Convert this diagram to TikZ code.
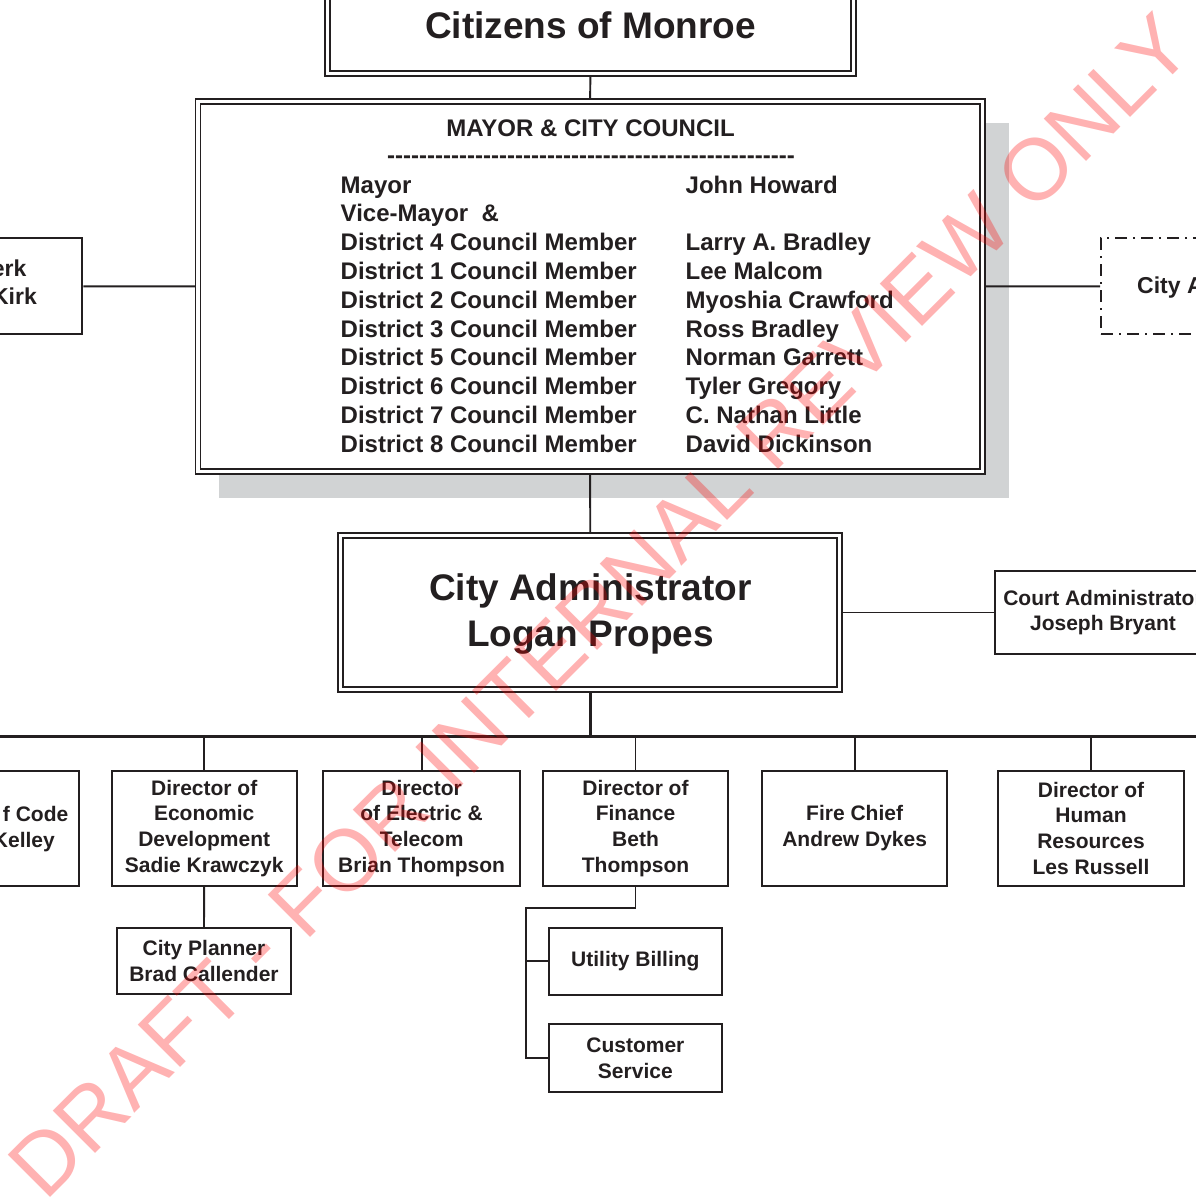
\documentclass[tikz,border=0pt]{standalone}
\usepackage{fontspec}
\setmainfont{Liberation Sans}
\newfontfamily\wmfont{Liberation Sans}
\usetikzlibrary{calc}
\definecolor{ink}{HTML}{231F20}
\definecolor{shadowgray}{HTML}{D1D3D4}
\pgfdeclarelayer{paperlayer}
\pgfdeclarelayer{shadelayer}
\pgfdeclarelayer{linklayer}
\pgfdeclarelayer{marklayer}
\pgfsetlayers{paperlayer,shadelayer,linklayer,main,marklayer}
\newcommand\hyphenrun{\foreach \k in {1,...,51}{-\kern0pt}}
\begin{document}
\begin{tikzpicture}[x=1pt,y=-1pt,
  plainbox/.style={draw=ink, line width=1.9pt, rectangle, inner sep=0pt, align=center,
    text=ink, font=\fontsize{21}{25.6}\selectfont\bfseries},
  dblbox/.style={draw=ink, line width=1.8pt, double=white, double distance=3.2pt,
    rectangle, inner sep=0pt},
  dashbox/.style={plainbox, dash pattern=on 12pt off 6pt on 2pt off 6pt},
  link/.style={draw=ink, line width=1.9pt},
  trunk/.style={draw=ink, line width=2.7pt},
  cell/.style={anchor=base west, inner sep=0pt, text=ink, font=\fontsize{24}{28.8}\selectfont\bfseries},
  bigtext/.style={anchor=base, inner sep=0pt, text=ink, font=\fontsize{37}{44}\selectfont\bfseries},
  sidetext/.style={inner sep=0pt, text=ink, font=\fontsize{23}{27.6}\selectfont\bfseries},
]
\begin{pgfonlayer}{paperlayer}
  \fill[white] (0,0) rectangle (1195,1199);
\end{pgfonlayer}
\useasboundingbox (0,0) rectangle (1195,1199);

% ---- top level ----
\node[dblbox, minimum width=525.5pt, minimum height=113.2pt] (cit) at (590.45,16.6) {};
\node[bigtext] (citT) at (590.5,39) {Citizens of Monroe};

% ---- council ----
\begin{pgfonlayer}{shadelayer}
  \fill[shadowgray] (219.3,122.7) rectangle (1009.3,497.7);
\end{pgfonlayer}
\node[dblbox, fill=white, minimum width=784.3pt, minimum height=369.7pt] (council) at (590.05,286.35) {};
\node[cell, anchor=base] (ctitle) at (590.5,136.6) {MAYOR \& CITY COUNCIL};
\node[cell, anchor=base] (crule) at (591,163) {\hyphenrun};
\foreach \txt [count=\i] in {Mayor, Vice-Mayor\ \ \&, District 4 Council Member,
  District 1 Council Member, District 2 Council Member, District 3 Council Member,
  District 5 Council Member, District 6 Council Member, District 7 Council Member,
  District 8 Council Member}
  \node[cell] (role\i) at (340.5,{193+28.8*(\i-1)}) {\txt};
\foreach \i/\txt in {1/John Howard, 3/Larry A. Bradley, 4/Lee Malcom, 5/Myoshia Crawford,
  6/Ross Bradley, 7/Norman Garrett, 8/Tyler Gregory, 9/C. Nathan Little, 10/David Dickinson}
  \node[cell] (name\i) at (685.5,{193+28.8*(\i-1)}) {\txt};

% ---- side boxes of the council ----
\node[plainbox, minimum width=142.3pt, minimum height=96pt] (clerk) at (11.15,286.3) {};
\node[sidetext, anchor=base east] (clerkA) at (26.5,276.7) {erk};
\node[sidetext, anchor=base east] (clerkB) at (37,304) {Kirk};
\node[dashbox, minimum width=199pt, minimum height=96pt] (attorney) at (1200.5,286.3) {};
\node[sidetext, anchor=base west] (attorneyT) at (1137,293) {City A};

% ---- administrator ----
\node[dblbox, minimum width=499pt, minimum height=153.4pt] (admin) at (590.3,612.5) {};
\node[bigtext] (adminA) at (590.5,600) {City Administrator};
\node[bigtext] (adminB) at (590.5,646) {Logan Propes};
\node[plainbox, minimum width=216pt, minimum height=83.6pt] (court) at (1103,612.5)
  {Court Administrator\\Joseph Bryant};

% ---- departments ----
\node[plainbox, minimum width=188.7pt, minimum height=115pt] (code) at (-15.65,828.2) {};
\node[inner sep=0pt, text=ink, font=\fontsize{21}{25.6}\selectfont\bfseries, anchor=base east] (codeA) at (68.5,821.7) {f Code};
\node[inner sep=0pt, text=ink, font=\fontsize{21}{25.6}\selectfont\bfseries, anchor=base east] (codeB) at (55,847.7) {Kelley};
\node[plainbox, minimum width=185pt, minimum height=115pt] (dev) at (204.2,828.2)
  {Director of\\Economic\\Development\\Sadie Krawczyk};
\node[plainbox, minimum width=196.7pt, minimum height=115pt] (elec) at (421.65,828.2)
  {Director\\of Electric \&\\Telecom\\Brian Thompson};
\node[plainbox, minimum width=185.6pt, minimum height=115pt] (fin) at (635.5,828.2)
  {Director of\\Finance\\Beth\\Thompson};
\node[plainbox, minimum width=184.7pt, minimum height=115pt] (fire) at (854.65,828.2)
  {Fire Chief\\Andrew Dykes};
\node[plainbox, minimum width=185.4pt, minimum height=115pt] (hr) at (1091,828.2)
  {Director of\\Human\\Resources\\Les Russell};
\node[plainbox, minimum width=173.4pt, minimum height=66.6pt] (planner) at (204,961)
  {City Planner\\Brad Callender};
\node[plainbox, minimum width=172.7pt, minimum height=67pt] (utility) at (635.35,961.2)
  {Utility Billing};
\node[plainbox, minimum width=172.7pt, minimum height=67.4pt] (customer) at (635.35,1058)
  {Customer\\Service};

% ---- connectors ----
\coordinate (busL) at (-10,736.7);
\coordinate (busR) at (1205,736.7);
\coordinate (finElbow) at (526,908.3);
\begin{pgfonlayer}{linklayer}
  \draw[link] (cit.south) -- (council.north);
  \draw[link] (council.south) -- (admin.north);
  \draw[link] (clerk.east) -- (council.west);
  \draw[link] (council.east) -- (attorney.west);
  \draw[link] (admin.east) -- (court.west);
  \draw[trunk] (admin.south) -- (admin.south |- busL);
  \draw[trunk] (busL) -- (busR);
  \foreach \d in {dev,elec,fin,fire,hr}
    \draw[link] (\d.north |- busL) -- (\d.north);
  \draw[link] (dev.south) -- (planner.north);
  \draw[link] (fin.south) |- (finElbow) |- (customer.west);
  \draw[link] (finElbow |- utility.west) -- (utility.west);
\end{pgfonlayer}

% ---- watermark ----
\begin{pgfonlayer}{marklayer}
  \node[rotate=45, inner sep=0pt, text=red, text opacity=0.3,
    font=\wmfont\fontsize{87}{100}\selectfont] (stamp) at (600,606)
    {DRAFT - FOR INTERNAL REVIEW ONLY};
\end{pgfonlayer}
\end{tikzpicture}
\end{document}
